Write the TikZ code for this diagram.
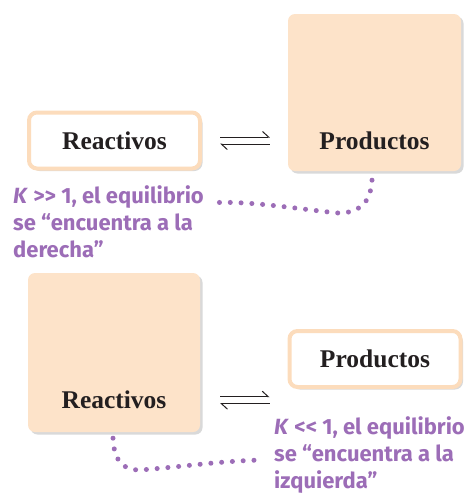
\documentclass[tikz,border=0pt]{standalone}
\usepackage{fontspec}
\setmainfont{Liberation Serif}
\newfontfamily\notefont{Fira Sans}
\usepackage{tikz}
\usetikzlibrary{arrows.meta,shadows}
\definecolor{peach}{RGB}{253,227,201}
\definecolor{peachline}{RGB}{252,220,188}
\definecolor{notecol}{RGB}{156,109,183}
\definecolor{inkcol}{RGB}{35,31,32}
\newcommand{\boxfont}{\fontsize{25.5}{28}\selectfont\bfseries}
\newcommand{\notetext}{\notefont\fontsize{22}{27}\selectfont\bfseries}

\begin{document}
\begin{tikzpicture}[x=1pt, y=-1pt,
    boxshadow/.style={drop shadow={shadow xshift=2.5pt, shadow yshift=-2.5pt, opacity=0.15, fill=black}},
    smallbox/.style={draw=peachline, line width=4pt, fill=white, rounded corners=8pt,
        minimum width=171pt, minimum height=56pt, inner sep=0pt, boxshadow,
        font=\boxfont, text=inkcol},
    bigbox/.style={fill=peach, rounded corners=7pt, inner sep=0pt, boxshadow},
    boxlabel/.style={font=\boxfont, text=inkcol, inner sep=0pt},
    note/.style={font=\notetext, text=notecol, align=left, anchor=north west, inner sep=0pt},
    harp/.style={line width=1pt, inkcol, -{Straight Barb[harpoon, length=6pt, width=11pt]}},
    dots/.style={notecol, line width=5pt, line cap=round, dash pattern=on 0pt off 10.8pt}]
    \useasboundingbox (0,0) rectangle (474,493);

    \node[smallbox] (reacA) at (114.5,140.5) {Reactivos};
    \node[bigbox, minimum width=173pt, minimum height=157pt] (prodA) at (374.5,92.5) {};
    \node[boxlabel] (prodAtxt) at (prodA.south |- reacA.center) {Productos};
    \draw[harp] ([xshift=18pt, yshift=3.5pt]reacA.east) -- ([xshift=-18pt, yshift=3.5pt]reacA.east -| prodA.west);
    \draw[harp] ([xshift=-18pt, yshift=-3.5pt]reacA.east -| prodA.west) -- ([xshift=18pt, yshift=-3.5pt]reacA.east);

    \node[note] (noteA) at (13,185) {\textit{K} >{}> 1, el equilibrio\\se “encuentra a la\\derecha”};
    \draw[dots] ([xshift=-2.5pt, yshift=-9pt]prodA.south) .. controls +(-1.5,26) and +(18,0) .. (338,213)
        .. controls +(-40,-4) and +(35,-3) .. ([xshift=6pt, yshift=-18pt]noteA.north east);

    \node[bigbox, minimum width=172pt, minimum height=159pt] (reacB) at (114,352.5) {};
    \node[boxlabel] (reacBtxt) at ([yshift=32pt]reacB.south) {Reactivos};
    \node[smallbox] (prodB) at (375,359) {Productos};
    \draw[harp] ([xshift=20pt, yshift=3.5pt]reacB.east |- reacBtxt.center) -- ([xshift=-18pt, yshift=3.5pt]prodB.west |- reacBtxt.center);
    \draw[harp] ([xshift=-18pt, yshift=-3.5pt]prodB.west |- reacBtxt.center) -- ([xshift=20pt, yshift=-3.5pt]reacB.east |- reacBtxt.center);

    \node[note] (noteB) at (274,416) {\textit{K} <{}< 1, el equilibrio\\se “encuentra a la\\izquierda”};
    \draw[dots] ([xshift=-1pt, yshift=-6pt]reacB.south) .. controls +(1,22) and +(-18,0) .. (140,470)
        .. controls +(40,-3) and +(-40,1) .. ([xshift=-14pt, yshift=-5.5pt]noteB.west);
\end{tikzpicture}
\end{document}
